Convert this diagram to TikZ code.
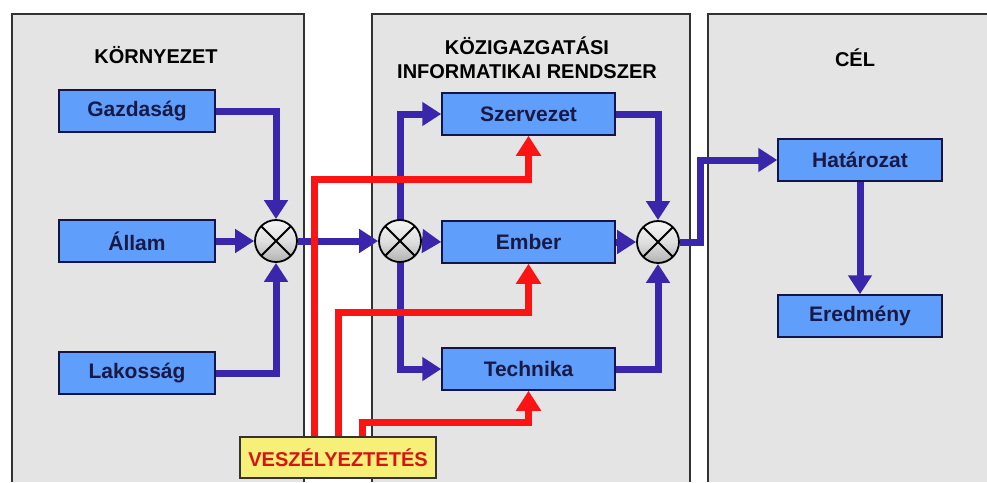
\documentclass[tikz,border=0pt]{standalone}
\usepackage{fontspec}
\setmainfont{Liberation Sans}
\usetikzlibrary{arrows.meta}
\definecolor{panelfill}{RGB}{228,228,228}
\definecolor{panelline}{RGB}{50,50,50}
\definecolor{boxblue}{RGB}{95,158,250}
\definecolor{boxline}{RGB}{20,20,70}
\definecolor{boxtext}{RGB}{25,25,70}
\definecolor{arrowblue}{RGB}{58,38,170}
\definecolor{arrowred}{RGB}{250,20,20}
\definecolor{vfill}{RGB}{246,240,120}
\definecolor{vtext}{RGB}{215,20,20}
\pgfdeclarelayer{panels}
\pgfdeclarelayer{lines}
\pgfsetlayers{panels,lines,main}
\begin{document}
\begin{tikzpicture}[x=1pt,y=-1pt,
  title/.style={font=\bfseries\fontsize{20}{24}\selectfont,text=black,align=center},
  box/.style={draw=boxline,fill=boxblue,line width=1.5pt,minimum width=156pt,minimum height=42pt,inner sep=0pt,font=\bfseries\fontsize{21}{23}\selectfont,text=boxtext},
  mult/.style={circle,draw=black,line width=1.8pt,minimum size=42pt,inner sep=0pt,top color=gray!8,bottom color=gray!60,middle color=gray!25,
    path picture={\draw[line width=1.8pt,black] (path picture bounding box.north west) -- (path picture bounding box.south east)
      (path picture bounding box.north east) -- (path picture bounding box.south west);}},
  vbox/.style={draw=black!80,fill=vfill,line width=1.5pt,minimum width=196pt,minimum height=41pt,inner sep=0pt,font=\bfseries\fontsize{20}{22}\selectfont,text=vtext},
  barrow/.style={draw=arrowblue,line width=7pt,-{Triangle[length=19pt,width=23pt]}},
  rarrow/.style={draw=arrowred,line width=7pt,-{Triangle[length=20pt,width=24pt]}}]
\useasboundingbox (0,0) rectangle (987,482);
\begin{pgfonlayer}{panels}
\fill[white] (0,0) rectangle (987,482);
\fill[panelfill] (12,14) rectangle (304,482);
\draw[panelline,line width=1.5pt] (12,482) -- (12,14) -- (304,14) -- (304,482);
\fill[panelfill] (372,14) rectangle (690,482);
\draw[panelline,line width=1.5pt] (372,482) -- (372,14) -- (690,14) -- (690,482);
\fill[panelfill] (708,14) rectangle (987,482);
\draw[panelline,line width=1.5pt] (708,482) -- (708,14) -- (987,14);
\end{pgfonlayer}
% titles
\node[title] (t1) at (156,55) {KÖRNYEZET};
\node[title] (t2) at (527,58) {KÖZIGAZGATÁSI\\INFORMATIKAI RENDSZER};
\node[title] (t3) at (855,58) {CÉL};
% boxes
\node[box] (gazd) at (137,111) {Gazdaság};
\node[box] (allam) at (137,241) {Állam};
\node[box] (lak) at (137,373) {Lakosság};
\node[box,minimum width=173pt] (szerv) at (528.5,114) {Szervezet};
\node[box,minimum width=173pt] (ember) at (528.5,242) {Ember};
\node[box,minimum width=173pt] (tech) at (528.5,369) {Technika};
\node[box,minimum width=164pt] (hat) at (860,160) {Határozat};
\node[box,minimum width=164pt] (ered) at (860,316) {Eredmény};
% multipliers
\node[mult] (m1) at (276,241) {};
\node[mult] (m2) at (400,241) {};
\node[mult] (m3) at (658,242) {};
% threat
\node[vbox] (vesz) at (338,457.5) {VESZÉLYEZTETÉS};
\coordinate (j3) at (700,242);
\begin{pgfonlayer}{lines}
\draw[barrow] (gazd.east) -| (m1.north);
\draw[barrow] (allam.east) -- (m1.west);
\draw[barrow] (lak.east) -| (m1.south);
\draw[barrow] (m1.east) -- (m2.west);
\draw[barrow] (m2.center) |- (szerv.west);
\draw[barrow] (m2.center) |- (tech.west);
\draw[barrow] (m2.east) -- (ember.west);
\draw[barrow] (szerv.east) -| (m3.north);
\draw[barrow] (ember.east) -- (m3.west);
\draw[barrow] (tech.east) -| (m3.south);
\draw[barrow] (m3.east) -- (j3) |- (hat.west);
\draw[barrow] (hat.south) -- (ered.north);
\draw[rarrow] ([xshift=-24pt]vesz.north) -- ++(0,-257) -| (szerv.south);
\draw[rarrow] (vesz.north) -- ++(0,-124) -| (ember.south);
\draw[rarrow] ([xshift=24pt]vesz.north) -- ++(0,-14) -| (tech.south);
\end{pgfonlayer}
\end{tikzpicture}
\end{document}
